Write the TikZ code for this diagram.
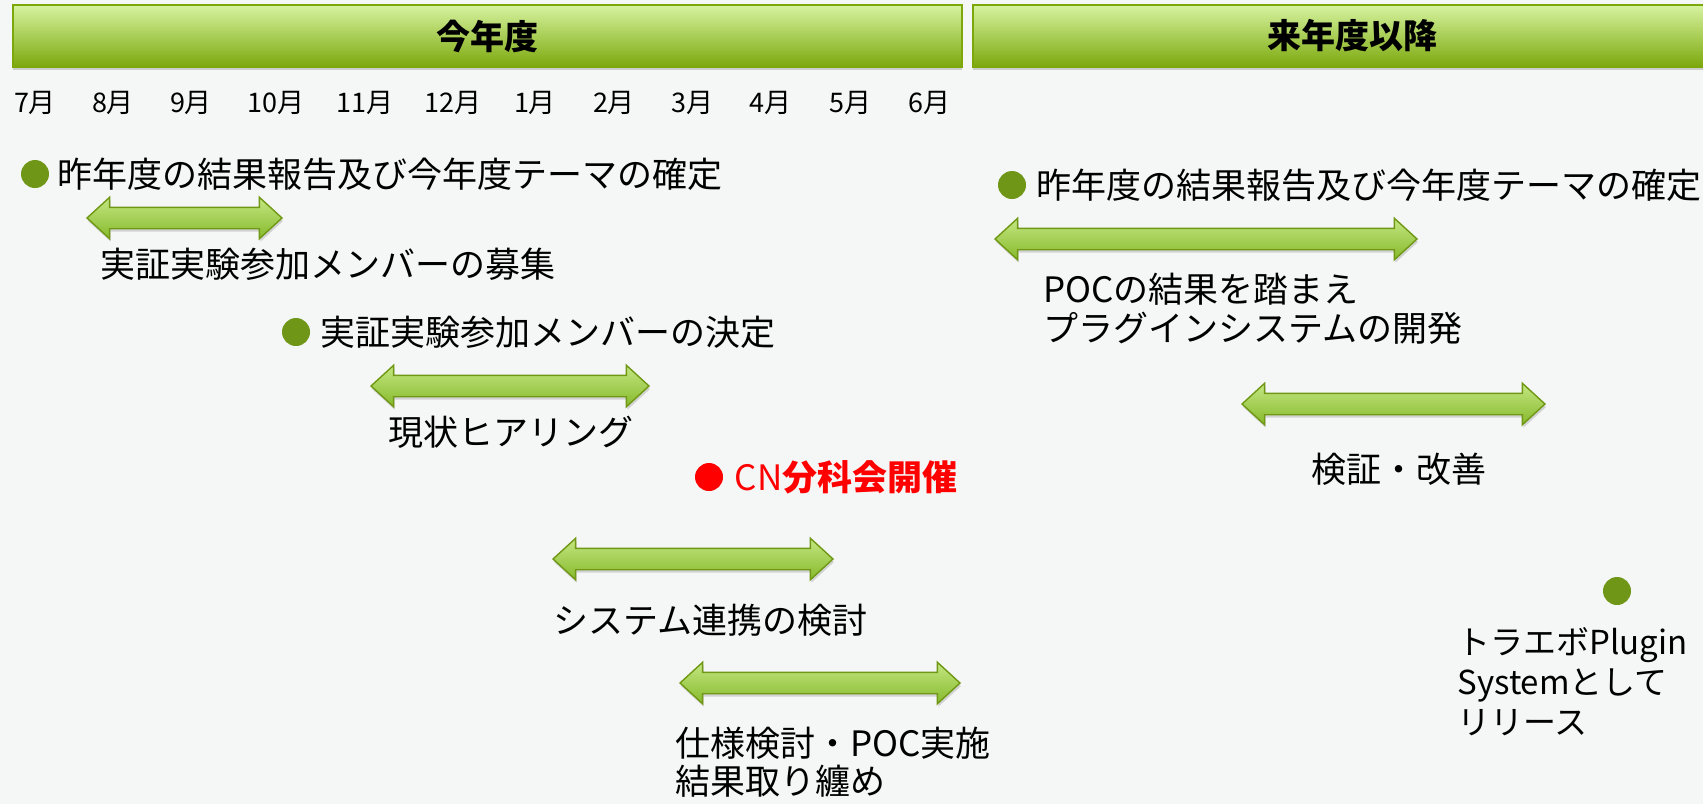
\documentclass[tikz,border=0pt]{standalone}
\usepackage{fontspec}
\setmainfont{Noto Sans CJK JP}
\usetikzlibrary{shapes.arrows,shadows,positioning}

\definecolor{bggray}{RGB}{245,247,247}
\definecolor{leaf}{RGB}{112,150,24}
\definecolor{barlight}{RGB}{214,243,160}
\definecolor{barmid}{RGB}{184,226,110}
\definecolor{bardark}{RGB}{124,168,12}
\definecolor{spanlight}{RGB}{196,230,130}
\definecolor{spanmid}{RGB}{178,220,104}
\definecolor{spandark}{RGB}{134,186,44}
\definecolor{spanline}{RGB}{112,152,20}

\begin{document}
\begin{tikzpicture}[
        x=0.5pt, y=-0.5pt,
        font=\fontsize{17.5}{19.5}\selectfont
    ]

    \tikzstyle{bar}   = [rectangle, draw=bardark, line width=0.6pt,
                         top color=barlight, middle color=barmid, bottom color=bardark,
                         minimum height=31pt, inner sep=0pt,
                         font=\fontsize{17}{19}\selectfont\bfseries,
                         drop shadow={shadow xshift=0pt, shadow yshift=-1.5pt, opacity=0.35}]
    \tikzstyle{month} = [inner sep=0pt, font=\fontsize{13.5}{15}\selectfont]
    \tikzstyle{span}  = [double arrow, draw=spanline, line width=0.7pt,
                         top color=spanlight, middle color=spanmid, bottom color=spandark,
                         inner xsep=0pt, inner ysep=5pt,
                         double arrow head extend=5pt, double arrow tip angle=85,
                         drop shadow={shadow xshift=0.5pt, shadow yshift=-1.5pt, opacity=0.3}]
    \tikzstyle{dot}   = [circle, fill=leaf, minimum size=14pt, inner sep=0pt]
    \tikzstyle{item}  = [inner sep=0pt, anchor=west, align=left]

    \fill[bggray] (0,0) rectangle (1703,804);
    \useasboundingbox (0,0) rectangle (1703,804);

    % headers
    \node[bar, minimum width=474.5pt] (thisyear) at (487.5,36) {今年度};
    \node[bar, minimum width=379pt]   (nextyear) at (1352,36)  {来年度以降};

    % months
    \node[month] (m7)  at (35,103)  {7月};
    \node[month] (m8)  at (113,103) {8月};
    \node[month] (m9)  at (191,103) {9月};
    \node[month] (m10) at (276,103) {10月};
    \node[month] (m11) at (365,103) {11月};
    \node[month] (m12) at (453,103) {12月};
    \node[month] (m1)  at (535,103) {1月};
    \node[month] (m2)  at (614,103) {2月};
    \node[month] (m3)  at (692,103) {3月};
    \node[month] (m4)  at (770,103) {4月};
    \node[month] (m5)  at (850,103) {5月};
    \node[month] (m6)  at (929,103) {6月};

    % this year
    \node[dot] (report) at (35,174) {};
    \node[item] (reporttxt) [right=4pt of report] {昨年度の結果報告及び今年度テーマの確定};

    \node[span, minimum height=97.5pt] (recruit) at (184.5,218) {};
    \node[item] (recruittxt) at (100,264) {実証実験参加メンバーの募集};

    \node[dot] (member) at (296,332) {};
    \node[item] (membertxt) [right=5pt of member] {実証実験参加メンバーの決定};

    \node[span, minimum height=139pt] (hearing) at (510,386) {};
    \node[item] (hearingtxt) at (388,432) {現状ヒアリング};

    \node[dot, fill=red] (cn) at (709,477) {};
    \node[item, text=red] (cntxt) [right=5.5pt of cn] {CN{\bfseries 分科会開催}};

    \node[span, minimum height=140pt] (link) at (693,559) {};
    \node[item] (linktxt) at (553,620) {システム連携の検討};

    \node[span, minimum height=140pt] (poc) at (820,683) {};
    \node[item, font=\fontsize{17.5}{19}\selectfont] (poctxt) at (675,762)
        {仕様検討・POC実施\\結果取り纏め};

    % next year
    \node[dot] (report2) at (1012,185) {};
    \node[item] (report2txt) [right=5pt of report2] {昨年度の結果報告及び今年度テーマの確定};

    \node[span, minimum height=211pt] (plugin) at (1206,239) {};
    \node[item, font=\fontsize{17.5}{19.5}\selectfont] (plugintxt) at (1043,308.5)
        {POCの結果を踏まえ\\プラグインシステムの開発};

    \node[span, minimum height=151.5pt] (verify) at (1393.5,404) {};
    \node[inner sep=0pt] (verifytxt) at (1399,469) {検証・改善};

    \node[dot] (release) at (1617,591) {};
    \node[item, font=\fontsize{16.5}{20}\selectfont] (releasetxt) at (1457,682)
        {トラエボPlugin\\Systemとして\\リリース};

\end{tikzpicture}
\end{document}
